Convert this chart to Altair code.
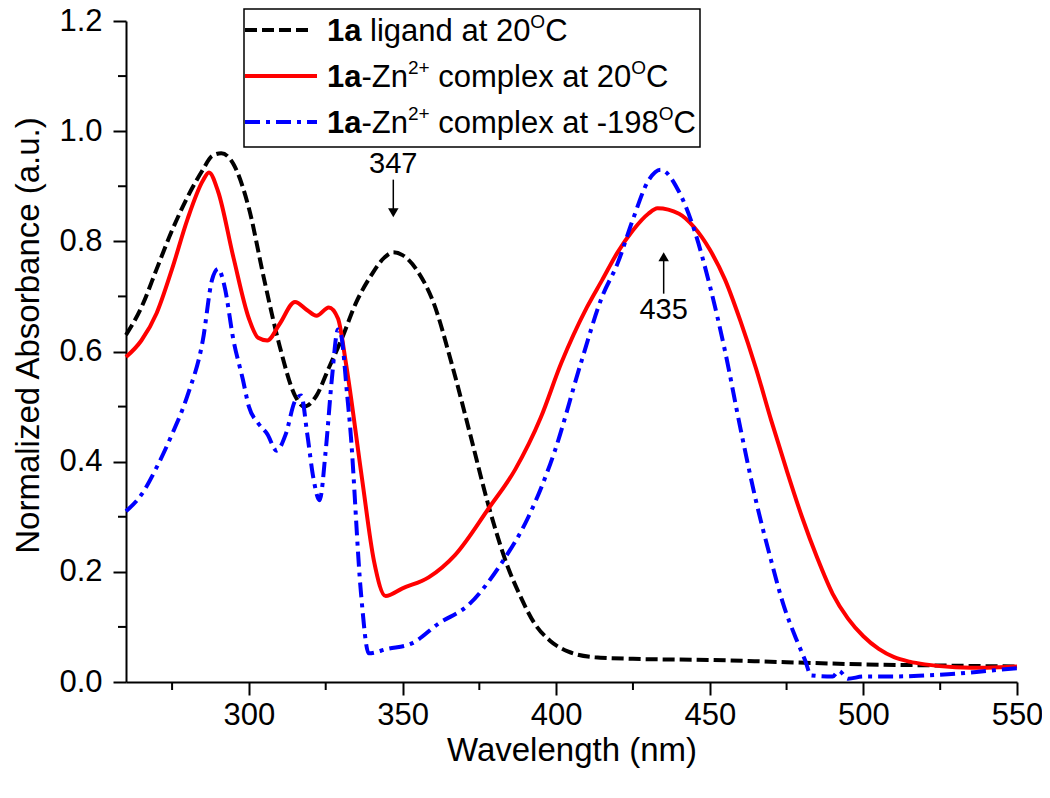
import altair as alt
import pandas as pd

# ---------------- data ----------------
wl_ligand = [260, 265, 270, 275, 280, 285, 288, 291, 295, 300, 305, 310, 315, 318, 322, 326, 330, 335,
             340, 344, 347, 350, 355, 360, 366, 372, 378, 384.4, 388, 393, 398, 404, 412.6, 425, 450,
             475, 500, 525, 550]
abs_ligand = [0.63, 0.68, 0.75, 0.82, 0.88, 0.93, 0.955, 0.96, 0.94, 0.86, 0.73, 0.61, 0.52, 0.50, 0.52,
              0.57, 0.62, 0.69, 0.74, 0.77, 0.78, 0.775, 0.745, 0.69, 0.578, 0.45, 0.32, 0.207, 0.16,
              0.106, 0.075, 0.055, 0.045, 0.042, 0.04, 0.036, 0.032, 0.03, 0.028]

wl_zn20 = [260, 265, 270, 275, 280, 285, 287, 290, 295, 300, 303, 306, 310, 315, 319, 322, 326, 329,
           331.6, 336.8, 340.7, 344.5, 350, 358.5, 367, 378, 386.7, 395, 401.6, 410, 415, 420, 425, 430,
           433, 440, 445, 450, 455, 460, 465, 470, 475, 480, 485, 490, 495, 500, 505, 510, 515, 520,
           530, 540, 550]
abs_zn20 = [0.59, 0.62, 0.67, 0.75, 0.84, 0.91, 0.925, 0.89, 0.77, 0.66, 0.625, 0.62, 0.65, 0.69, 0.675,
            0.665, 0.68, 0.66, 0.578, 0.37, 0.22, 0.156, 0.17, 0.19, 0.23, 0.315, 0.386, 0.48, 0.578,
            0.68, 0.73, 0.78, 0.82, 0.85, 0.86, 0.85, 0.825, 0.785, 0.73, 0.655, 0.57, 0.475, 0.385,
            0.30, 0.225, 0.16, 0.115, 0.083, 0.06, 0.045, 0.037, 0.032, 0.027, 0.026, 0.028]

wl_zn198 = [260, 265, 270, 275, 280, 285, 288, 290, 292, 295, 298, 300, 303, 306, 309, 312, 315, 317,
            319, 321, 323, 325, 327, 329, 330, 332, 333, 336.5, 339, 345, 353, 361.7, 371.5, 382, 391,
            399.6, 408, 415, 420, 425, 430, 434, 440, 445, 450, 455, 460, 465, 470, 474, 478, 481, 483,
            490, 492, 495, 500, 510, 520, 530, 540, 550]
abs_zn198 = [0.31, 0.34, 0.39, 0.45, 0.52, 0.62, 0.73, 0.75, 0.72, 0.62, 0.55, 0.50, 0.47, 0.45, 0.42,
             0.45, 0.51, 0.52, 0.45, 0.37, 0.33, 0.42, 0.55, 0.64, 0.63, 0.52, 0.46, 0.16, 0.052, 0.06,
             0.07, 0.106, 0.14, 0.214, 0.30, 0.42, 0.578, 0.70, 0.76, 0.84, 0.91, 0.93, 0.89, 0.82, 0.72,
             0.60, 0.46, 0.33, 0.22, 0.14, 0.08, 0.04, 0.012, 0.01, 0.02, 0.006, 0.01, 0.01, 0.012,
             0.015, 0.02, 0.025]

x_major = [300, 350, 400, 450, 500, 550]
x_minor = [275, 325, 375, 425, 475, 525]
y_major = [0.0, 0.2, 0.4, 0.6, 0.8, 1.0, 1.2]
y_minor = [0.1, 0.3, 0.5, 0.7, 0.9, 1.1]

peak_labels = ["347", "435"]
peak_wl = [347, 435]
peak_text_y = [0.94, 0.675]
arrow_from = [0.912, 0.705]
arrow_to = [0.852, 0.772]

# ---------------- layout ----------------
PX0, PY0 = 126, 21          # plot-area top-left on the page
W, H = 891, 661
FONT = "Liberation Sans"

xscale = alt.Scale(domain=[260, 550], nice=False, zero=False)
yscale = alt.Scale(domain=[0, 1.2], nice=False, zero=False)

df_l = pd.DataFrame({"wl": wl_ligand, "a": abs_ligand})
df_r = pd.DataFrame({"wl": wl_zn20, "a": abs_zn20})
df_b = pd.DataFrame({"wl": wl_zn198, "a": abs_zn198})

xaxis = alt.Axis(values=x_major, title="Wavelength (nm)", grid=False, tickSize=13, tickWidth=2,
                 domainWidth=2, domainColor="black", tickColor="black", labelFontSize=31,
                 labelFont=FONT, labelColor="black", labelPadding=5, titleFont=FONT,
                 titleFontSize=33, titleFontWeight="normal", titleColor="black", titlePadding=4,
                 labelFlush=False)
yaxis = alt.Axis(values=y_major, format=".1f", title="Normalized Absorbance (a.u.)", grid=False,
                 tickSize=13, tickWidth=2, domainWidth=2, domainColor="black", tickColor="black",
                 labelFontSize=31, labelFont=FONT, labelColor="black", labelPadding=11,
                 titleFont=FONT, titleFontSize=33, titleFontWeight="normal", titleColor="black",
                 titlePadding=13, titleY=335 - PY0, labelFlush=False)

line_black = alt.Chart(df_l).mark_line(color="black", strokeWidth=4, strokeDash=[12, 5],
                                       interpolate="monotone").encode(
    x=alt.X("wl:Q", scale=xscale, axis=xaxis),
    y=alt.Y("a:Q", scale=yscale, axis=yaxis),
)
line_red = alt.Chart(df_r).mark_line(color="#ff0000", strokeWidth=4, interpolate="monotone").encode(
    x=alt.X("wl:Q", scale=xscale), y=alt.Y("a:Q", scale=yscale))
line_blue = alt.Chart(df_b).mark_line(color="#0000ff", strokeWidth=4, strokeDash=[15, 6, 4, 6],
                                      interpolate="monotone").encode(
    x=alt.X("wl:Q", scale=xscale), y=alt.Y("a:Q", scale=yscale))

# minor ticks
minor_x = alt.Chart(pd.DataFrame({"v": x_minor})).mark_rule(color="black", strokeWidth=2).encode(
    x=alt.X("v:Q", scale=xscale), y=alt.value(H), y2=alt.value(H + 8))
minor_y = alt.Chart(pd.DataFrame({"v": y_minor})).mark_rule(color="black", strokeWidth=2).encode(
    y=alt.Y("v:Q", scale=yscale), x=alt.value(0), x2=alt.value(-8))

# annotations
df_ann = pd.DataFrame({"lab": peak_labels, "wl": peak_wl, "ty": peak_text_y,
                       "y1": arrow_from, "y2": arrow_to})
ann_text = alt.Chart(df_ann).mark_text(font=FONT, fontSize=29, color="black").encode(
    x=alt.X("wl:Q", scale=xscale), y=alt.Y("ty:Q", scale=yscale), text="lab:N")
ann_rule = alt.Chart(df_ann).mark_rule(color="black", strokeWidth=1.5).encode(
    x=alt.X("wl:Q", scale=xscale), y=alt.Y("y1:Q", scale=yscale), y2="y2:Q")
df_down = df_ann[df_ann["lab"] == "347"]
df_up = df_ann[df_ann["lab"] == "435"]
head_down = alt.Chart(df_down).mark_point(shape="triangle-down", filled=True, color="black",
                                          size=110, opacity=1).encode(
    x=alt.X("wl:Q", scale=xscale), y=alt.Y("y2:Q", scale=yscale))
head_up = alt.Chart(df_up).mark_point(shape="triangle-up", filled=True, color="black",
                                      size=110, opacity=1).encode(
    x=alt.X("wl:Q", scale=xscale), y=alt.Y("y2:Q", scale=yscale))

# ---------------- manual legend (rich text) ----------------
AW = {'1': 556, 'a': 556, ' ': 278, 'l': 222, 'i': 222, 'g': 556, 'n': 556,
      'd': 556, 't': 278, '2': 556, '0': 556, '-': 333, 'Z': 611, 'c': 500, 'o': 556, 'm': 833,
      'p': 556, 'e': 556, 'x': 500, '9': 556, '8': 556, '+': 584, 'O': 778, 'C': 722}


def tw(s, size):
    return sum(AW.get(c, 556) for c in s) / 1000 * size


LF = 31       # legend font
SF = 19       # superscript font
legend_rows = [
    [("1a", "b"), (" ligand at 20", "n"), ("O", "s"), ("C", "n")],
    [("1a", "b"), ("-Zn", "n"), ("2+", "s"), (" complex at 20", "n"), ("O", "s"), ("C", "n")],
    [("1a", "b"), ("-Zn", "n"), ("2+", "s"), (" complex at -198", "n"), ("O", "s"), ("C", "n")],
]
row_base = [41, 87, 133]
row_line = [30, 76, 122]
text_x0 = 327

pieces = []
for r, row in enumerate(legend_rows):
    x = text_x0
    for s, kind in row:
        size = SF if kind == "s" else LF
        lead = len(s) - len(s.lstrip(" "))
        x += tw(" " * lead, size)          # leading blanks become an offset
        body = s.lstrip(" ")
        pieces.append({"t": body, "x": x - PX0,
                       "y": (row_base[r] - (13 if kind == "s" else 0)) - PY0,
                       "w": "bold" if kind == "b" else "normal", "fs": size})
        x += tw(body, size)
df_p = pd.DataFrame(pieces)

leg_layers = []
for fs in sorted(df_p["fs"].unique()):
    for wgt in ["bold", "normal"]:
        sub = df_p[(df_p["fs"] == fs) & (df_p["w"] == wgt)]
        if len(sub) == 0:
            continue
        leg_layers.append(alt.Chart(sub).mark_text(font=FONT, fontSize=int(fs), fontWeight=wgt,
                                                   align="left", baseline="alphabetic",
                                                   color="black").encode(
            x=alt.X("x:Q", scale=None), y=alt.Y("y:Q", scale=None), text="t:N"))

one = pd.DataFrame({"k": [0]})
box = alt.Chart(one).mark_rect(fill="white", stroke="black", strokeWidth=1.5).encode(
    x=alt.value(244 - PX0), x2=alt.value(700 - PX0), y=alt.value(9 - PY0), y2=alt.value(147 - PY0))
sym1 = alt.Chart(one).mark_rule(color="black", strokeWidth=4, strokeDash=[12, 5]).encode(
    x=alt.value(245 - PX0), x2=alt.value(311 - PX0), y=alt.value(row_line[0] - PY0))
sym2 = alt.Chart(one).mark_rule(color="#ff0000", strokeWidth=4).encode(
    x=alt.value(245 - PX0), x2=alt.value(317 - PX0), y=alt.value(row_line[1] - PY0))
sym3 = alt.Chart(one).mark_rule(color="#0000ff", strokeWidth=4, strokeDash=[15, 6, 4, 6]).encode(
    x=alt.value(245 - PX0), x2=alt.value(317 - PX0), y=alt.value(row_line[2] - PY0))

chart = alt.layer(
    line_black, line_red, line_blue, minor_x, minor_y, ann_rule, head_down, head_up,
    box, sym1, sym2, sym3, *leg_layers, ann_text
).properties(
    width=W, height=H,
    autosize=alt.AutoSizeParams(type="none"),
    padding={"left": PX0 - 8, "top": PY0 - 8, "right": 1050 - 16 - (PX0 - 8) - W,
             "bottom": 798 - 16 - (PY0 - 8) - H},
).configure_view(stroke=None)

chart.save("out.html", embed_options={"renderer": "svg", "actions": False})
